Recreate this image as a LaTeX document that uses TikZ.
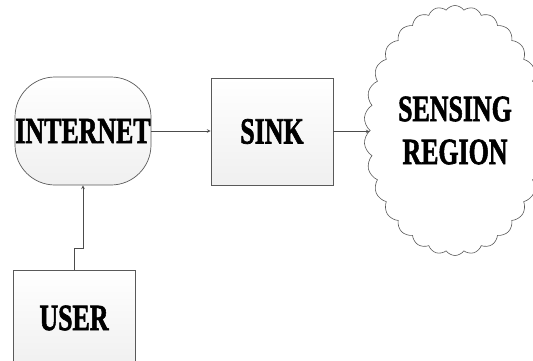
\documentclass[tikz,border=0pt]{standalone}
\usepackage{fontspec}
\setmainfont[BoldFeatures={FakeBold=2}]{Liberation Serif}
\usepackage{tikz}
\usetikzlibrary{shapes,arrows,positioning}
\newcommand{\lbl}[1]{\scalebox{0.7}[1]{#1}}

\begin{document}
\begin{tikzpicture}[
    x=1pt, y=1pt,
    box/.style={rectangle, draw=gray!70!black, line width=0.7pt, top color=white, bottom color=gray!12,
        minimum width=122pt, minimum height=107pt, align=center, inner sep=0pt,
        font=\bfseries\fontsize{37}{43}\selectfont},
    net/.style={box, minimum width=136pt, minimum height=108pt, rounded corners=40pt},
    region/.style={cloud, draw=gray!70!black, line width=0.6pt, fill=white, cloud puffs=30, cloud puff arc=110,
        minimum width=182pt, minimum height=250pt, align=center, inner sep=0pt,
        font=\bfseries\fontsize{37}{43}\selectfont},
    arrow/.style={->, >=stealth, line width=0.7pt, draw=gray!60!black}
]
\useasboundingbox (0,0) rectangle (533,360);

% Nodes
\node[net]    (internet) at (83,  229)   {\lbl{INTERNET}};
\node[box]    (sink)     at (272, 228.5) {\lbl{SINK}};
\node[region] (sensing)  at (455, 229.5) {\lbl{SENSING}\\\lbl{REGION}};
\node[box, minimum height=96pt] (user) at (74, 42) {\lbl{USER}};

% Arrows
\draw[arrow] (internet.east) -- (sink.west |- internet.east);
\draw[arrow] (sink.east) -- (sensing.west |- sink.east);
\draw[arrow] (user.north) -- ++(0,21) -| (internet.south);

\end{tikzpicture}
\end{document}
